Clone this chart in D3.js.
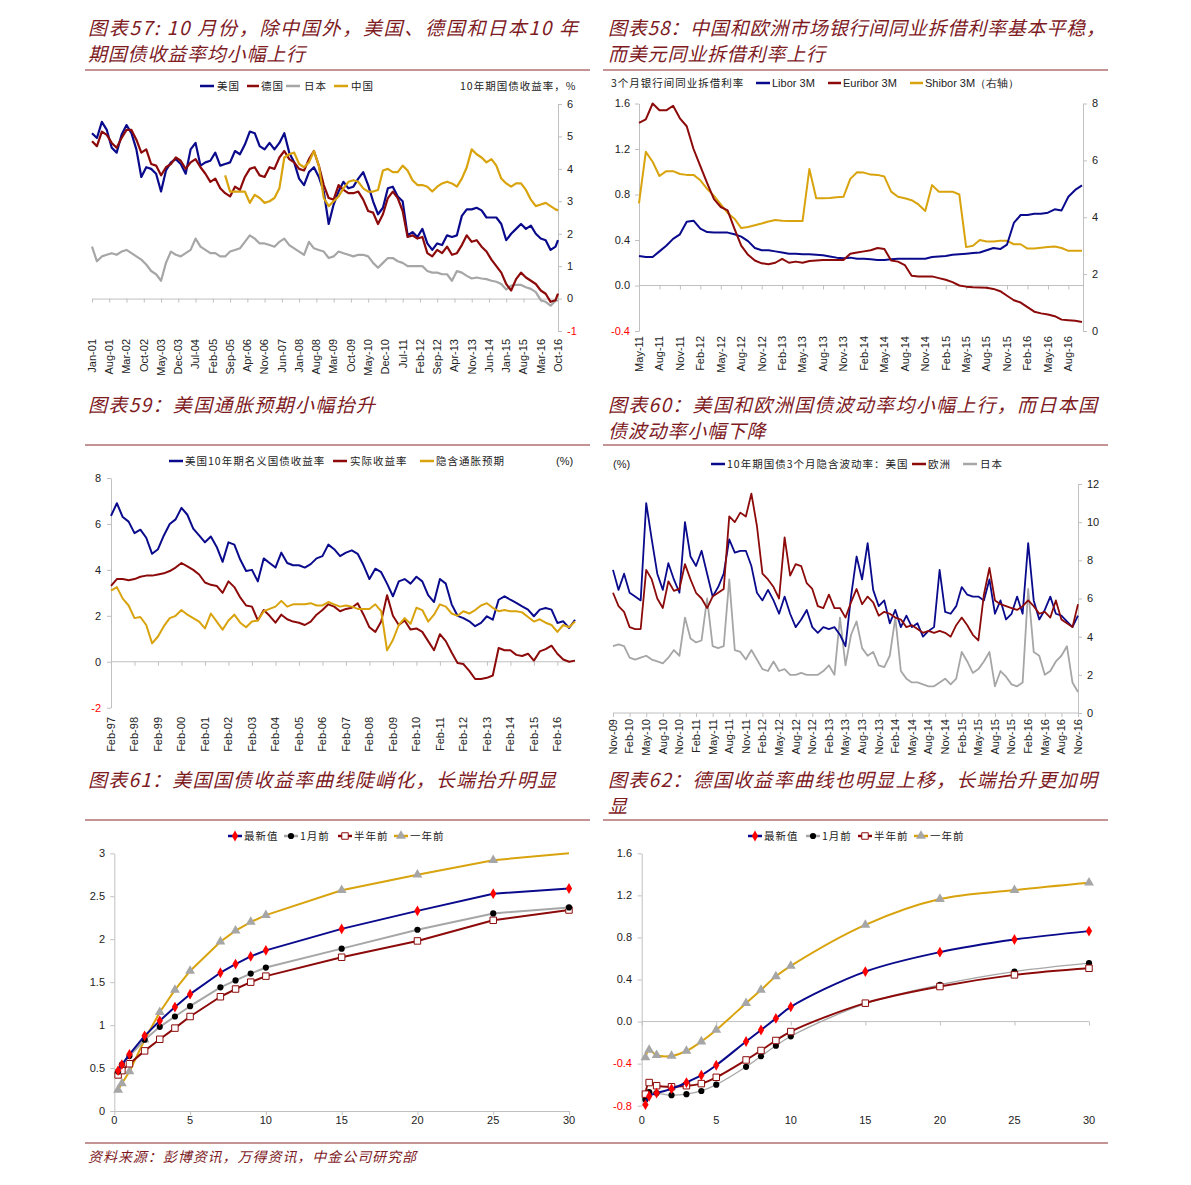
<!DOCTYPE html>
<html><head><meta charset="utf-8">
<script src="https://cdn.jsdelivr.net/npm/d3@7"></script>
<style>
body{margin:0;background:#fff;}
svg{display:block;}
.ttl{font-family:"Noto Sans CJK SC",sans-serif;font-size:19px;font-style:italic;fill:#7e1b1f;}
.lg{font-family:"Noto Sans CJK SC",sans-serif;font-size:10.5px;letter-spacing:1px;fill:#222;}
.lgl{font-family:Arial,"Liberation Sans",sans-serif;font-size:11px;fill:#222;}
.tk{font-family:Arial,"Liberation Sans",sans-serif;font-size:11px;fill:#222;}
</style></head><body>
<svg id="c" width="1191" height="1185"></svg>
<script>
// ---------- Chart 57: 10Y government bond yields (bi-monthly from Jan-01, last point Oct-16) ----------
const t57Labels = ["Jan-01","Aug-01","Mar-02","Oct-02","May-03","Dec-03","Jul-04","Feb-05","Sep-05","Apr-06","Nov-06","Jun-07","Jan-08","Aug-08","Mar-09","Oct-09","May-10","Dec-10","Jul-11","Feb-12","Sep-12","Apr-13","Nov-13","Jun-14","Jan-15","Aug-15","Mar-16","Oct-16"];
const s57Names = ["美国","德国","日本","中国"];
const us57 = [5.1,4.95,5.45,5.2,4.65,4.5, 5.05,5.35,5.1,4.6,3.75,4.05, 4.0,3.85,3.3,3.95,4.2,4.3, 4.15,3.85,4.6,4.8,4.1,4.2, 4.25,4.5,4.1,4.15,4.2,4.55, 4.45,4.75,5.15,5.1,4.7,4.6, 4.8,4.6,4.8,5.1,4.5,4.2, 3.7,3.5,3.9,4.05,3.75,3.3, 2.3,2.9,3.3,3.6,3.4,3.45, 3.7,3.9,3.5,3.0,2.6,2.8, 3.4,3.45,3.15,3.0,1.95,2.05, 1.9,2.15,1.7,1.5,1.7,1.65, 1.95,1.9,1.95,2.55,2.75,2.75, 2.8,2.72,2.5,2.5,2.5,2.3, 1.8,2.0,2.15,2.3,2.15,2.25, 2.0,1.85,1.8,1.5,1.6,1.8];
const de57 = [4.85,4.7,5.15,5.05,4.8,4.65, 4.95,5.2,5.2,4.9,4.5,4.6, 4.15,4.1,3.8,4.05,4.15,4.35, 4.25,4.0,4.2,4.3,4.05,3.85, 3.6,3.7,3.4,3.25,3.15,3.45, 3.35,3.75,4.0,4.05,3.8,3.75, 4.05,4.0,4.35,4.55,4.3,4.2, 4.0,3.95,4.3,4.55,4.1,3.5, 3.1,3.05,3.5,3.35,3.25,3.25, 3.3,3.05,2.7,2.65,2.3,2.6, 3.1,3.3,3.1,2.7,1.9,1.95, 1.85,1.9,1.4,1.3,1.5,1.4, 1.6,1.35,1.4,1.65,1.95,1.75, 1.8,1.6,1.45,1.2,1.0,0.8, 0.45,0.25,0.6,0.8,0.65,0.55, 0.45,0.25,0.15,-0.1,-0.05,0.15];
const jp57 = [1.6,1.15,1.3,1.35,1.4,1.35, 1.45,1.5,1.4,1.3,1.2,1.05, 0.85,0.75,0.55,1.1,1.45,1.35, 1.3,1.4,1.5,1.85,1.6,1.5, 1.4,1.4,1.3,1.3,1.45,1.5, 1.55,1.75,1.95,1.85,1.7,1.7, 1.65,1.6,1.75,1.85,1.65,1.55, 1.45,1.35,1.75,1.55,1.5,1.45, 1.25,1.3,1.45,1.4,1.35,1.3, 1.35,1.35,1.3,1.1,0.95,1.1, 1.25,1.25,1.15,1.1,1.0,1.0, 1.0,1.0,0.85,0.8,0.8,0.75, 0.75,0.55,0.85,0.8,0.7,0.62, 0.65,0.62,0.6,0.55,0.52,0.45, 0.28,0.4,0.42,0.42,0.35,0.3, 0.2,-0.05,-0.1,-0.22,-0.07,-0.05];
// China starts Jul-05
const cn57 = [3.8,3.3,3.3, 3.3,3.3,2.95,3.2,3.1,2.95, 3.0,3.1,3.4,4.35,4.45,4.5, 4.15,4.05,4.2,4.55,4.1,3.1, 2.85,3.0,3.15,3.4,3.6,3.65, 3.6,3.4,3.3,3.3,3.35,3.95, 4.0,3.9,3.9,4.1,3.95,3.65, 3.5,3.5,3.45,3.3,3.45,3.55, 3.6,3.55,3.45,3.7,4.05,4.6, 4.45,4.35,4.2,4.3,4.1,3.7, 3.55,3.45,3.55,3.55,3.35,3.05, 2.85,2.9,2.95,2.85,2.75,2.72];
const y57Ticks = [6,5,4,3,2,1,0,-1];

// ---------- Chart 58: 3M interbank rates (monthly May-11 .. Oct-16) ----------
const t58Labels = ["May-11","Aug-11","Nov-11","Feb-12","May-12","Aug-12","Nov-12","Feb-13","May-13","Aug-13","Nov-13","Feb-14","May-14","Aug-14","Nov-14","Feb-15","May-15","Aug-15","Nov-15","Feb-16","May-16","Aug-16"];
const s58Names = ["Libor 3M","Euribor 3M","Shibor 3M（右轴）"];
const libor58 = [0.26,0.25,0.25,0.30,0.35,0.41,0.45,0.56,0.57,0.50,0.47,0.467,0.466,0.465,0.45,0.43,0.39,0.33,0.31,0.31,0.30,0.29,0.28,0.28,0.275,0.275,0.27,0.265,0.255,0.245,0.24,0.245,0.235,0.235,0.23,0.225,0.225,0.23,0.235,0.235,0.235,0.235,0.235,0.25,0.255,0.26,0.27,0.275,0.28,0.285,0.29,0.31,0.33,0.32,0.36,0.55,0.62,0.62,0.63,0.63,0.64,0.67,0.66,0.78,0.84,0.88];
const euribor58 = [1.43,1.46,1.60,1.54,1.54,1.58,1.47,1.40,1.20,1.05,0.90,0.76,0.69,0.66,0.50,0.35,0.27,0.22,0.195,0.187,0.20,0.235,0.20,0.21,0.20,0.215,0.22,0.225,0.225,0.225,0.225,0.28,0.29,0.30,0.31,0.33,0.32,0.22,0.21,0.18,0.085,0.08,0.08,0.08,0.065,0.05,0.03,0.0,-0.01,-0.015,-0.018,-0.02,-0.03,-0.05,-0.09,-0.13,-0.15,-0.19,-0.23,-0.245,-0.255,-0.27,-0.30,-0.305,-0.31,-0.32];
const shibor58 = [4.49,6.3,5.95,5.45,5.62,5.62,5.52,5.49,5.49,5.3,5.0,4.75,4.45,4.15,3.95,3.62,3.66,3.72,3.78,3.85,3.9,3.88,3.87,3.87,3.87,5.7,4.67,4.67,4.68,4.70,4.72,5.35,5.58,5.57,5.50,5.49,5.43,4.9,4.72,4.67,4.60,4.45,4.22,5.13,4.9,4.9,4.9,4.8,2.95,3.0,3.2,3.15,3.15,3.17,3.17,3.05,3.05,2.9,2.9,2.93,2.95,2.97,2.92,2.82,2.82,2.82];
const y58LTicks = [1.6,1.2,0.8,0.4,0.0,-0.4];
const y58LLabels = ["1.6","1.2","0.8","0.4","0.0","-0.4"];
const y58RTicks = [8,6,4,2,0];

// ---------- Chart 59: US nominal / real / breakeven (quarterly Feb-97 .. Nov-16) ----------
const t59Labels = ["Feb-97","Feb-98","Feb-99","Feb-00","Feb-01","Feb-02","Feb-03","Feb-04","Feb-05","Feb-06","Feb-07","Feb-08","Feb-09","Feb-10","Feb-11","Feb-12","Feb-13","Feb-14","Feb-15","Feb-16"];
const s59Names = ["美国10年期名义国债收益率","实际收益率","隐含通胀预期"];
const nominal59 = [6.35,6.9,6.3,6.1, 5.6,5.75,5.4,4.7, 4.9,5.5,6.0,6.2, 6.7,6.4,5.8,5.5, 5.2,5.45,5.0,4.35, 5.2,5.1,4.45,3.95, 4.0,3.5,4.5,4.3, 4.1,4.75,4.3,4.2, 4.2,4.1,4.25,4.5, 4.6,5.1,4.9,4.6, 4.75,4.85,4.7,4.2, 3.6,4.05,3.9,3.4, 2.85,3.5,3.6,3.4, 3.7,3.5,2.9,2.6, 3.6,3.4,2.5,2.0, 1.9,1.76,1.55,1.69, 1.98,1.83,2.7,2.85, 2.7,2.56,2.41,2.27, 1.98,2.27,2.34,2.27, 1.69,1.76,1.47,1.83];
const real59 = [3.3,3.6,3.6,3.55, 3.6,3.7,3.75,3.75, 3.8,3.85,3.95,4.1, 4.3,4.15,4.0,3.8, 3.45,3.35,3.3,3.0, 3.5,3.25,2.8,2.45, 2.4,1.8,2.25,2.0, 1.7,2.05,1.85,1.75, 1.7,1.6,1.75,2.05, 2.25,2.5,2.4,2.2, 2.3,2.35,2.55,2.05, 1.5,1.3,1.75,2.9, 2.0,1.6,1.8,1.4, 1.45,1.3,0.9,0.5, 1.2,0.9,0.4,-0.05, -0.1,-0.4,-0.75,-0.75, -0.7,-0.6,0.6,0.5, 0.5,0.3,0.25,0.35, 0.05,0.45,0.55,0.7, 0.35,0.1,0.0,0.05];
const breakeven59 = [3.1,3.25,2.75,2.45, 1.9,1.95,1.6,0.8, 1.1,1.55,1.9,2.0, 2.25,2.05,1.9,1.75, 1.45,2.1,1.75,1.4, 1.8,2.05,1.7,1.5, 1.75,1.8,2.2,2.3, 2.4,2.65,2.4,2.5, 2.5,2.5,2.55,2.45, 2.45,2.6,2.5,2.4, 2.45,2.4,2.3,2.3, 2.3,2.5,2.2,0.5, 0.95,1.6,1.9,1.65, 2.35,2.25,1.75,2.05, 2.5,2.4,2.1,2.0, 2.2,2.1,2.25,2.45, 2.55,2.35,2.2,2.25, 2.2,2.2,2.15,1.95, 1.75,1.85,1.7,1.6, 1.3,1.6,1.5,1.75];
const y59Ticks = [8,6,4,2,0,-2];

// ---------- Chart 60: 3M implied volatility of 10Y bonds (monthly Nov-09 .. Nov-16) ----------
const t60Labels = ["Nov-09","Feb-10","May-10","Aug-10","Nov-10","Feb-11","May-11","Aug-11","Nov-11","Feb-12","May-12","Aug-12","Nov-12","Feb-13","May-13","Aug-13","Nov-13","Feb-14","May-14","Aug-14","Nov-14","Feb-15","May-15","Aug-15","Nov-15","Feb-16","May-16","Aug-16","Nov-16"];
const s60Names = ["10年期国债3个月隐含波动率：美国","欧洲","日本"];
const us60 = [7.5,6.45,7.3,6.3,6.1,5.9,11.0,9.1,7.3,6.45, 7.85,7.0,6.3,10.0,8.2,7.7,8.5,7.3,6.1,6.6, 7.3,9.1,8.4,8.5,8.5,7.7,6.3,5.9,6.45,5.9, 5.2,6.1,5.2,4.5,4.9,5.4,4.5,4.2,4.5,4.4, 4.5,4.1,3.5,6.1,8.2,7.0,8.9,6.45,5.6,5.9, 4.7,5.4,4.5,5.1,4.5,4.7,4.0,4.3,4.5,7.5, 5.3,5.2,5.6,6.6,6.2,6.1,6.1,5.9,7.0,5.2, 5.9,4.9,5.2,6.1,5.2,8.9,5.9,4.9,5.4,6.1, 5.2,5.1,4.8,4.5,5.1];
const eu60 = [6.3,5.6,5.3,4.5,4.4,4.4,7.5,7.0,6.0,5.5, 6.9,6.4,6.5,7.8,7.0,6.3,6.0,5.5,6.1,6.3, 6.5,10.3,10.0,10.5,10.3,11.5,9.8,7.3,7.0,6.6, 6.0,9.2,7.2,7.8,7.7,6.8,6.5,5.6,5.5,6.2, 5.5,5.5,5.0,5.8,6.5,5.7,6.1,5.8,5.1,5.3, 5.2,5.0,4.9,4.5,4.6,4.4,4.2,4.3,4.2,4.3, 4.2,4.0,4.6,5.0,4.6,4.1,3.8,6.2,7.6,5.9, 5.7,5.6,5.5,5.4,5.6,5.9,5.6,5.2,5.3,5.0, 5.9,4.9,4.7,4.5,5.7];
const jp60 = [3.5,3.6,3.5,2.9,2.8,2.9,3.0,2.8,2.7,2.6, 2.9,3.3,3.0,5.0,3.9,3.7,3.8,6.0,3.5,3.4, 3.5,7.0,3.3,3.2,2.8,3.3,2.8,2.3,2.2,2.7, 2.2,2.3,2.0,2.0,2.1,2.0,2.0,2.0,2.2,2.5, 2.0,5.0,2.5,4.1,4.8,3.4,3.0,3.2,2.5,2.4, 3.0,5.0,2.2,1.8,1.6,1.6,1.5,1.4,1.4,1.6, 1.8,1.5,1.8,3.2,2.7,2.1,2.3,2.7,3.2,1.4, 2.2,1.9,1.5,1.4,1.6,6.5,3.2,3.0,2.0,2.2, 2.7,3.0,3.5,1.6,1.1];
const y60Ticks = [12,10,8,6,4,2,0];

// ---------- Charts 61/62: yield curves ----------
const curveNames = ["最新值","1月前","半年前","一年前"];
const maturities = [0.25,0.5,1,2,3,4,5,7,8,9,10,15,20,25,30];
const us61Latest = [0.47,0.54,0.66,0.875,1.05,1.21,1.36,1.61,1.71,1.80,1.87,2.12,2.33,2.53,2.59];
const us61M1 = [0.46,0.54,0.64,0.83,0.98,1.10,1.22,1.44,1.52,1.60,1.67,1.89,2.11,2.30,2.37];
const us61H = [0.42,0.47,0.55,0.70,0.835,0.965,1.10,1.33,1.42,1.50,1.57,1.79,1.98,2.22,2.34];
const us61Y = [0.245,0.32,0.46,0.83,1.15,1.41,1.63,1.97,2.10,2.20,2.28,2.57,2.75,2.92,3.0];
const de62Latest = [-0.79,-0.71,-0.68,-0.64,-0.58,-0.51,-0.415,-0.19,-0.08,0.03,0.14,0.475,0.66,0.78,0.86];
const de62M1 = [-0.74,-0.67,-0.68,-0.70,-0.69,-0.66,-0.60,-0.43,-0.33,-0.23,-0.14,0.17,0.35,0.475,0.555];
const de62H = [-0.69,-0.58,-0.61,-0.62,-0.61,-0.59,-0.53,-0.365,-0.275,-0.18,-0.095,0.175,0.333,0.444,0.507];
const de62Y = [-0.34,-0.27,-0.32,-0.327,-0.28,-0.19,-0.08,0.175,0.30,0.43,0.53,0.92,1.165,1.25,1.32];
const y61Ticks = [3,2.5,2,1.5,1,0.5,0];
const y62Ticks = [1.6,1.2,0.8,0.4,0.0,-0.4,-0.8];
const y62Labels = ["1.6","1.2","0.8","0.4","0.0","-0.4","-0.8"];
const xCurveTicks = [0,5,10,15,20,25,30];

const titles = {
  c57:["图表57: 10 月份，除中国外，美国、德国和日本10 年","期国债收益率均小幅上行"],
  c58:["图表58：中国和欧洲市场银行间同业拆借利率基本平稳，","而美元同业拆借利率上行"],
  c59:["图表59：美国通胀预期小幅抬升"],
  c60:["图表60：美国和欧洲国债波动率均小幅上行，而日本国","债波动率小幅下降"],
  c61:["图表61：美国国债收益率曲线陡峭化，长端抬升明显"],
  c62:["图表62：德国收益率曲线也明显上移，长端抬升更加明","显"]
};
const sourceText = "资料来源：彭博资讯，万得资讯，中金公司研究部";

// ---------- drawing ----------
const NAVY="#0a0a8c", DRED="#8c0a0a", GRAY="#a6a6a6", GOLD="#d9a30e", TC="#7e1b1f", AX="#c0c0c0", RULE="#8a2a2a";
const svg = d3.select("#c");

function title(x, y0, lines, lens){
  lines.forEach((t,i)=>{
    const el = svg.append("text").attr("class","ttl").attr("x",x).attr("y",y0+i*25.5).text(t);
    if(lens && lens[i]) el.attr("textLength",lens[i]).attr("lengthAdjust","spacing");
    else el.style("letter-spacing","0.8px");
  });
}
function rule(x1,x2,y){ svg.append("line").attr("x1",x1).attr("x2",x2).attr("y1",y).attr("y2",y).attr("stroke",RULE).attr("stroke-width",1); }
function styleAxis(g){ g.select(".domain").attr("stroke",AX).attr("stroke-width",1); g.selectAll(".tick line").attr("stroke",AX); g.selectAll(".tick text").remove(); }
function hAxis(x, y, tickVals, x0, x1){
  const g = svg.append("g").attr("transform",`translate(0,${y})`)
    .call(d3.axisBottom(x).tickValues(tickVals).tickSize(4).tickSizeOuter(0).tickFormat(""));
  styleAxis(g);
  if(x0!==undefined) g.select(".domain").attr("d",`M${x0},0H${x1}`);
}
function vAxis(y, x, tickVals, side){
  const ax = side==="right"? d3.axisRight(y) : d3.axisLeft(y);
  const g = svg.append("g").attr("transform",`translate(${x},0)`)
    .call(ax.tickValues(tickVals).tickSize(4).tickSizeOuter(0).tickFormat(""));
  styleAxis(g);
}
function yLabels(y, vals, labels, x, anchor){
  svg.append("g").selectAll("text").data(vals).join("text").attr("class","tk")
    .attr("x",x).attr("y",d=>y(d)).attr("dy","0.35em").attr("text-anchor",anchor)
    .style("fill",d=>d<0?"#ff0000":"#222").text((d,i)=>labels[i]);
}
function xRotLabels(x, vals, labels, yTop){
  svg.append("g").selectAll("text").data(vals).join("text").attr("class","tk")
    .attr("transform",d=>`translate(${x(d)},${yTop}) rotate(-90)`)
    .attr("text-anchor","end").attr("dy","0.35em").text((d,i)=>labels[i]);
}
function xLabels(x, vals, y){
  svg.append("g").selectAll("text").data(vals).join("text").attr("class","tk")
    .attr("x",d=>x(d)).attr("y",y).attr("dy","0.35em").attr("text-anchor","middle").text(d=>d);
}
function series(xs, vals, x, y, color, w, curve){
  const pts = vals.map((v,i)=>[x(xs[i]), y(v)]);
  svg.append("path").attr("d", d3.line().curve(curve||d3.curveLinear)(pts))
    .attr("fill","none").attr("stroke",color).attr("stroke-width",w).attr("stroke-linejoin","round");
}
function legLine(x1,x2,y,color){ svg.append("line").attr("x1",x1).attr("x2",x2).attr("y1",y).attr("y2",y).attr("stroke",color).attr("stroke-width",2.5); }
function legText(x,y,t,cls){ svg.append("text").attr("class",cls||"lg").attr("x",x).attr("y",y).attr("dy","0.35em").text(t); }

const markerDefs = [
  {type:d3.symbolDiamond, size:34, fill:"#ff0000", stroke:"none"},
  {type:d3.symbolCircle, size:30, fill:"#000", stroke:"none"},
  {type:d3.symbolSquare, size:42, fill:"#fff", stroke:DRED},
  {type:d3.symbolTriangle, size:42, fill:GRAY, stroke:"none"}
];
function marker(cx, cy, k){
  const m = markerDefs[k];
  svg.append("path").attr("d", d3.symbol().type(m.type).size(m.size)())
    .attr("transform",`translate(${cx},${cy})`).attr("fill",m.fill)
    .attr("stroke",m.stroke).attr("stroke-width",1);
}

// ===== Titles, rules, footer =====
title(88, 35, titles.c57, [490]);
title(608, 35, titles.c58, [497]);
title(88, 412, titles.c59, [287]);
title(608, 412, titles.c60, [489]);
title(88, 787, titles.c61, [468]);
title(608, 787, titles.c62, [489]);
rule(85,590,70); rule(603,1108,70);
rule(85,590,445); rule(603,1108,445);
rule(85,590,820); rule(603,1108,820);
rule(85,1108,1143);
svg.append("text").attr("class","ttl").attr("x",88).attr("y",1162).style("font-size","14px")
  .attr("textLength",328).attr("lengthAdjust","spacing").text(sourceText);

// ===== Chart 57 =====
{
  const x = d3.scaleLinear().domain([0,189]).range([92,558]);
  const y = d3.scaleLinear().domain([-1,6]).range([331,104]);
  const months = d3.range(0,190,2).concat([189]);
  const monthsCN = d3.range(54,190,2).concat([189]);
  const tickM = t57Labels.map((d,i)=>i*7);
  hAxis(x, y(0), tickM);
  vAxis(y, 558, y57Ticks, "right");
  yLabels(y, y57Ticks, y57Ticks.map(String), 567, "start");
  xRotLabels(x, tickM, t57Labels, 339);
  series(months, jp57, x, y, GRAY, 2.2);
  series(months, us57, x, y, NAVY, 2.2);
  series(months, de57, x, y, DRED, 2.2);
  series(monthsCN, cn57, x, y, GOLD, 2.2);
  const ly = 86;
  legLine(200,214,ly,NAVY); legText(217,ly,s57Names[0]);
  legLine(247,259,ly,DRED); legText(261,ly,s57Names[1]);
  legLine(286,300,ly,GRAY); legText(304,ly,s57Names[2]);
  legLine(334,348,ly,GOLD); legText(351,ly,s57Names[3]);
  legText(460,ly,"10年期国债收益率，%");
}

// ===== Chart 58 =====
{
  const x = d3.scaleLinear().domain([0,65]).range([639,1082]);
  const yL = d3.scaleLinear().domain([-0.4,1.6]).range([331,103.5]);
  const yR = d3.scaleLinear().domain([0,8]).range([331,103.5]);
  const months = d3.range(0,66);
  const tickM = t58Labels.map((d,i)=>i*3);
  hAxis(x, yL(0), tickM, 639, 1083);
  vAxis(yL, 639, y58LTicks, "left");
  vAxis(yR, 1083, y58RTicks, "right");
  yLabels(yL, y58LTicks, y58LLabels, 630, "end");
  yLabels(yR, y58RTicks, y58RTicks.map(String), 1092, "start");
  xRotLabels(x, tickM, t58Labels, 336);
  series(months, shibor58, x, yR, GOLD, 2);
  series(months, libor58, x, yL, NAVY, 2);
  series(months, euribor58, x, yL, DRED, 2);
  const ly = 83;
  legText(611,ly,"3个月银行间同业拆借利率");
  legLine(756,770,ly,NAVY); legText(772,ly,s58Names[0],"lgl");
  legLine(828,841,ly,DRED); legText(843,ly,s58Names[1],"lgl");
  legLine(910,923,ly,GOLD); legText(925,ly,s58Names[2],"lgl");
}

// ===== Chart 59 =====
{
  const x = d3.scaleLinear().domain([0,79]).range([111,575]);
  const y = d3.scaleLinear().domain([-2,8]).range([707.7,478]);
  const q = d3.range(0,80);
  const tickQ = t59Labels.map((d,i)=>i*4);
  hAxis(x, y(0), tickQ, 111, 575);
  vAxis(y, 111, y59Ticks, "left");
  yLabels(y, y59Ticks, y59Ticks.map(String), 101, "end");
  xRotLabels(x, tickQ, t59Labels, 717);
  series(q, nominal59, x, y, NAVY, 2);
  series(q, real59, x, y, DRED, 2);
  series(q, breakeven59, x, y, GOLD, 2);
  const ly = 461;
  legLine(169,183,ly,NAVY); legText(185,ly,s59Names[0]);
  legLine(333,347,ly,DRED); legText(350,ly,s59Names[1]);
  legLine(420,434,ly,GOLD); legText(436,ly,s59Names[2]);
  legText(556,ly,"(%)","lgl");
}

// ===== Chart 60 =====
{
  const x = d3.scaleLinear().domain([0,84]).range([613,1078]);
  const y = d3.scaleLinear().domain([0,12]).range([713,484]);
  const m = d3.range(0,85);
  const tickM = t60Labels.map((d,i)=>i*3);
  hAxis(x, y(0), tickM, 613, 1078);
  vAxis(y, 1078, y60Ticks, "right");
  yLabels(y, y60Ticks, y60Ticks.map(String), 1087, "start");
  xRotLabels(x, tickM, t60Labels, 719);
  series(m, jp60, x, y, GRAY, 1.8);
  series(m, us60, x, y, NAVY, 1.8);
  series(m, eu60, x, y, DRED, 1.8);
  const ly = 464;
  legText(613,ly,"(%)","lgl");
  legLine(711,725,ly,NAVY); legText(727,ly,s60Names[0]);
  legLine(912,926,ly,DRED); legText(928,ly,s60Names[1]);
  legLine(963,977,ly,GRAY); legText(980,ly,s60Names[2]);
}

// ===== Chart 61 =====
{
  const x = d3.scaleLinear().domain([0,30]).range([114.3,569]);
  const y = d3.scaleLinear().domain([0,3]).range([1111,853.3]);
  hAxis(x, y(0), xCurveTicks);
  vAxis(y, 114.3, y61Ticks, "left");
  yLabels(y, y61Ticks, y61Ticks.map(String), 105, "end");
  xLabels(x, xCurveTicks, 1120);
  const sets = [us61Latest, us61M1, us61H, us61Y];
  const cols = [NAVY, GRAY, DRED, GOLD];
  [3,2,1,0].forEach(k=>{
    series(maturities, sets[k], x, y, cols[k], 2);
    sets[k].forEach((v,i)=>{ if(v < y.domain()[1]) marker(x(maturities[i]), y(v), k); });
  });
  const ly = 836;
  const lx = [[228,242,244],[284,298,300],[338,352,354],[394,408,410]];
  lx.forEach((p,k)=>{ legLine(p[0],p[1],ly,cols[k]); marker((p[0]+p[1])/2, ly, k); legText(p[2],ly,curveNames[k]); });
}

// ===== Chart 62 =====
{
  const x = d3.scaleLinear().domain([0,30]).range([641.7,1089]);
  const y = d3.scaleLinear().domain([-0.8,1.6]).range([1105.7,853.3]);
  hAxis(x, y(0), xCurveTicks, 641.7, 1089);
  vAxis(y, 641.7, y62Ticks, "left");
  yLabels(y, y62Ticks, y62Labels, 632, "end");
  xLabels(x, xCurveTicks, 1120);
  const sets = [de62Latest, de62M1, de62H, de62Y];
  const cols = [NAVY, GRAY, DRED, GOLD];
  const widths = [2, 1.3, 2, 2];
  [3,1,2,0].forEach(k=>{
    series(maturities, sets[k], x, y, cols[k], widths[k], d3.curveCatmullRom.alpha(0.5));
    sets[k].forEach((v,i)=> marker(x(maturities[i]), y(v), k));
  });
  const ly = 836;
  const lx = [[748,762,764],[806,820,822],[858,872,874],[914,928,930]];
  lx.forEach((p,k)=>{ legLine(p[0],p[1],ly,cols[k]); marker((p[0]+p[1])/2, ly, k); legText(p[2],ly,curveNames[k]); });
}
</script></body></html>
